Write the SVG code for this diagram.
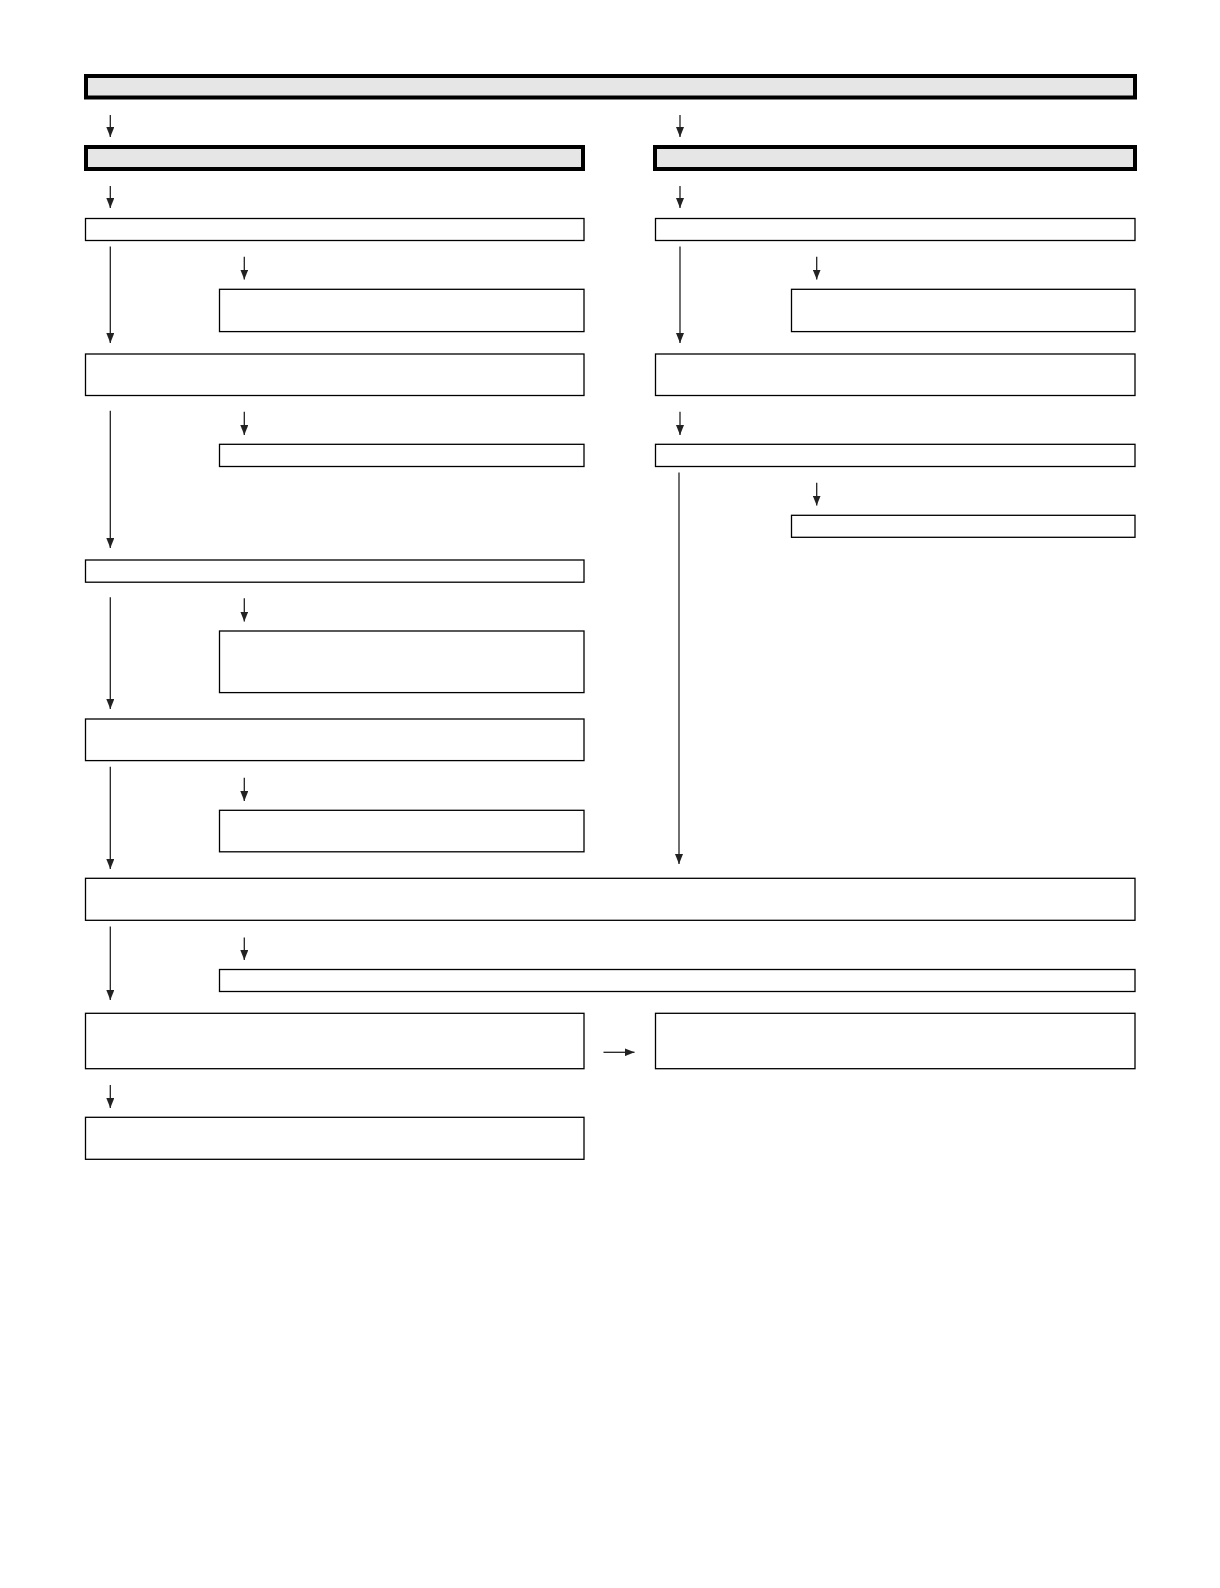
<svg xmlns="http://www.w3.org/2000/svg" width="1220" height="1588" viewBox="0 0 1220 1588">
<style>
.hd{fill:#e6e6e6;stroke:#000;stroke-width:4}
.bx{fill:#fff;stroke:#000;stroke-width:1.3}
.ar{fill:none;stroke:#222;stroke-width:1.3;marker-end:url(#ah)}
</style>
<defs>
<marker id="ah" viewBox="0 0 10 8" refX="10" refY="4" markerWidth="10" markerHeight="8" markerUnits="userSpaceOnUse" orient="auto">
<path d="M0,0 L10,4 L0,8 z" fill="#222"/>
</marker>
</defs>
<rect width="1220" height="1588" fill="#fff"/>
<g id="nodes">
<g id="n-top"><rect class="hd" x="86" y="76" width="1049" height="21.5"/></g>
<g id="n-hl"><rect class="hd" x="86" y="147" width="497" height="22"/></g>
<g id="n-hr"><rect class="hd" x="655" y="147" width="480" height="22"/></g>
<g id="n-l1"><rect class="bx" x="85.5" y="218.5" width="498.5" height="22"/></g>
<g id="n-r1"><rect class="bx" x="655.5" y="218.5" width="479.5" height="22"/></g>
<g id="n-l1a"><rect class="bx" x="219.5" y="289.3" width="364.5" height="42.3"/></g>
<g id="n-r1a"><rect class="bx" x="791.5" y="289.3" width="343.5" height="42.3"/></g>
<g id="n-l2"><rect class="bx" x="85.5" y="354" width="498.5" height="41.5"/></g>
<g id="n-r2"><rect class="bx" x="655.5" y="354" width="479.5" height="41.5"/></g>
<g id="n-l2a"><rect class="bx" x="219.5" y="444.3" width="364.5" height="22.2"/></g>
<g id="n-r3"><rect class="bx" x="655.5" y="444.3" width="479.5" height="22.2"/></g>
<g id="n-r3a"><rect class="bx" x="791.5" y="515.3" width="343.5" height="22"/></g>
<g id="n-l3"><rect class="bx" x="85.5" y="560" width="498.5" height="22.2"/></g>
<g id="n-l3a"><rect class="bx" x="219.5" y="631" width="364.5" height="61.6"/></g>
<g id="n-l4"><rect class="bx" x="85.5" y="719" width="498.5" height="41.6"/></g>
<g id="n-l4a"><rect class="bx" x="219.5" y="810.3" width="364.5" height="41.5"/></g>
<g id="n-w"><rect class="bx" x="85.5" y="878.3" width="1049.5" height="42"/></g>
<g id="n-wa"><rect class="bx" x="219.5" y="969.5" width="915.5" height="22"/></g>
<g id="n-l5"><rect class="bx" x="85.5" y="1013.3" width="498.5" height="55.4"/></g>
<g id="n-r5"><rect class="bx" x="655.5" y="1013.3" width="479.5" height="55.4"/></g>
<g id="n-l6"><rect class="bx" x="85.5" y="1117.3" width="498.5" height="42"/></g>
</g>
<g id="connectors">
<line class="ar" x1="110.3" y1="115" x2="110.3" y2="137"/>
<line class="ar" x1="680" y1="115" x2="680" y2="137"/>
<line class="ar" x1="110.3" y1="186" x2="110.3" y2="208"/>
<line class="ar" x1="680" y1="186" x2="680" y2="208"/>
<line class="ar" x1="110.3" y1="246.5" x2="110.3" y2="343"/>
<line class="ar" x1="680" y1="246.5" x2="680" y2="343"/>
<line class="ar" x1="244.3" y1="256.7" x2="244.3" y2="279.5"/>
<line class="ar" x1="816.7" y1="256.7" x2="816.7" y2="279.5"/>
<line class="ar" x1="110.3" y1="410.7" x2="110.3" y2="548"/>
<line class="ar" x1="244.3" y1="411.7" x2="244.3" y2="435"/>
<line class="ar" x1="680" y1="411.7" x2="680" y2="435"/>
<line class="ar" x1="679" y1="472.5" x2="679" y2="864"/>
<line class="ar" x1="816.7" y1="482.7" x2="816.7" y2="505.5"/>
<line class="ar" x1="110.3" y1="597.3" x2="110.3" y2="709"/>
<line class="ar" x1="244.3" y1="598.3" x2="244.3" y2="621.6"/>
<line class="ar" x1="110.3" y1="766.7" x2="110.3" y2="869"/>
<line class="ar" x1="244.3" y1="777.8" x2="244.3" y2="801"/>
<line class="ar" x1="110.3" y1="926.5" x2="110.3" y2="1000"/>
<line class="ar" x1="244.3" y1="937.5" x2="244.3" y2="960"/>
<line class="ar" x1="603.5" y1="1052.3" x2="634.5" y2="1052.3"/>
<line class="ar" x1="110.3" y1="1085" x2="110.3" y2="1108"/>
</g>
</svg>
